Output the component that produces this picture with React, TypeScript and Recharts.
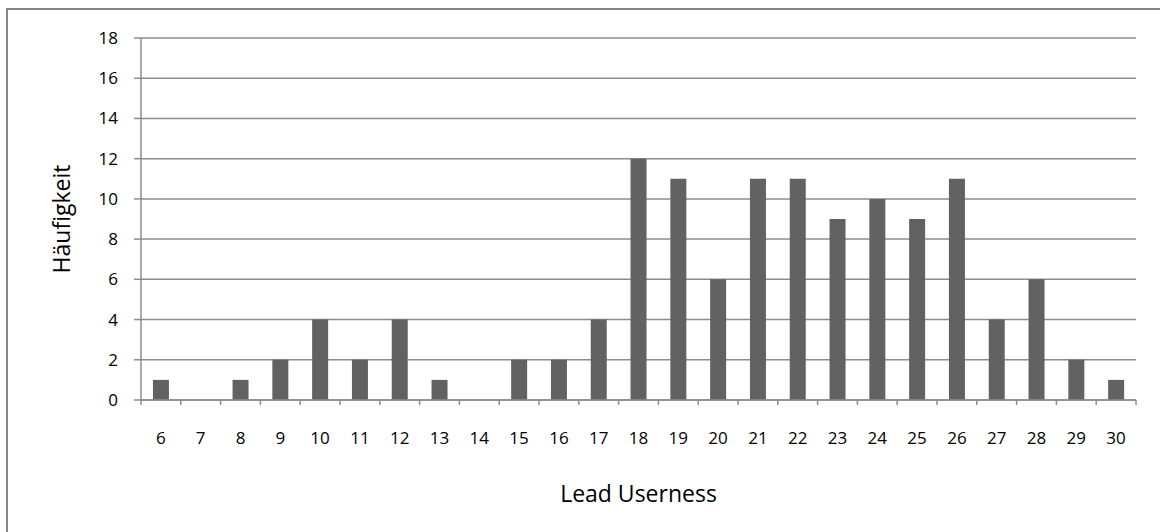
import React from 'react';
import { BarChart, Bar, XAxis, YAxis, CartesianGrid } from 'recharts';

const categories = ['6', '7', '8', '9', '10', '11', '12', '13', '14', '15', '16', '17', '18', '19', '20', '21', '22', '23', '24', '25', '26', '27', '28', '29', '30'];
const counts = [1, 0, 1, 2, 4, 2, 4, 1, 0, 2, 2, 4, 12, 11, 6, 11, 11, 9, 10, 9, 11, 4, 6, 2, 1];
const yTicks = [0, 2, 4, 6, 8, 10, 12, 14, 16, 18];

const data = categories.map((c, i) => ({ score: c, count: counts[i] }));

const W = 1160;
const H = 532;
const PLOT_LEFT = 141;
const PLOT_RIGHT = 1136;
const PLOT_TOP = 38;
const PLOT_BOTTOM = 400;
const BAND = (PLOT_RIGHT - PLOT_LEFT) / categories.length;

const FONT = '"Open Sans", sans-serif';
const AXIS_GRAY = '#8c8c8c';

// category labels plus the small tick marks on the band edges
function ScoreTick(props: any) {
  const { x, y, payload, index } = props;
  const half = BAND / 2;
  return (
    <g>
      <line x1={x - half} x2={x - half} y1={y} y2={y + 5} stroke={AXIS_GRAY} strokeWidth={1.5} />
      {index === categories.length - 1 && (
        <line x1={x + half} x2={x + half} y1={y} y2={y + 5} stroke={AXIS_GRAY} strokeWidth={1.5} />
      )}
      <text x={x} y={y + 44} textAnchor="middle" fontSize={17} fill="#000" fontFamily={FONT}>
        {payload.value}
      </text>
    </g>
  );
}

export default function App() {
  return (
    <div style={{ position: 'absolute', left: 0, top: 0, width: W, height: H, background: '#fff', overflow: 'hidden' }}>
      <div
        style={{
          position: 'absolute',
          left: 6,
          top: 8,
          width: W,
          height: H,
          borderLeft: '2px solid #868686',
          borderTop: '2px solid #868686',
        }}
      />
      <div style={{ position: 'absolute', left: 0, top: 0 }}>
        <BarChart
          width={W}
          height={H}
          data={data}
          margin={{ top: PLOT_TOP, right: W - PLOT_RIGHT, bottom: 0, left: 0 }}
          barCategoryGap="30%"
          style={{ fontFamily: FONT }}
        >
          <CartesianGrid vertical={false} stroke={AXIS_GRAY} strokeWidth={1.5} />
          <XAxis
            dataKey="score"
            height={H - PLOT_BOTTOM}
            interval={0}
            tickLine={false}
            tickSize={0}
            tickMargin={0}
            axisLine={{ stroke: AXIS_GRAY, strokeWidth: 1.5 }}
            tick={<ScoreTick />}
            label={{
              value: 'Lead Userness',
              position: 'insideBottom',
              offset: 30,
              fontSize: 23,
              fill: '#000',
              fontFamily: FONT,
            }}
          />
          <YAxis
            width={PLOT_LEFT}
            domain={[0, 18]}
            ticks={yTicks}
            interval={0}
            tickSize={7}
            tickMargin={16}
            tickLine={{ stroke: AXIS_GRAY, strokeWidth: 1.5 }}
            axisLine={{ stroke: AXIS_GRAY, strokeWidth: 1.5 }}
            tick={{ fontSize: 17, fill: '#000', fontFamily: FONT }}
            label={{
              value: 'Häufigkeit',
              angle: -90,
              position: 'insideLeft',
              offset: 62,
              fontSize: 23,
              fill: '#000',
              fontFamily: FONT,
              style: { textAnchor: 'middle' },
            }}
          />
          <Bar dataKey="count" fill="#626262" isAnimationActive={false} />
        </BarChart>
      </div>
    </div>
  );
}
